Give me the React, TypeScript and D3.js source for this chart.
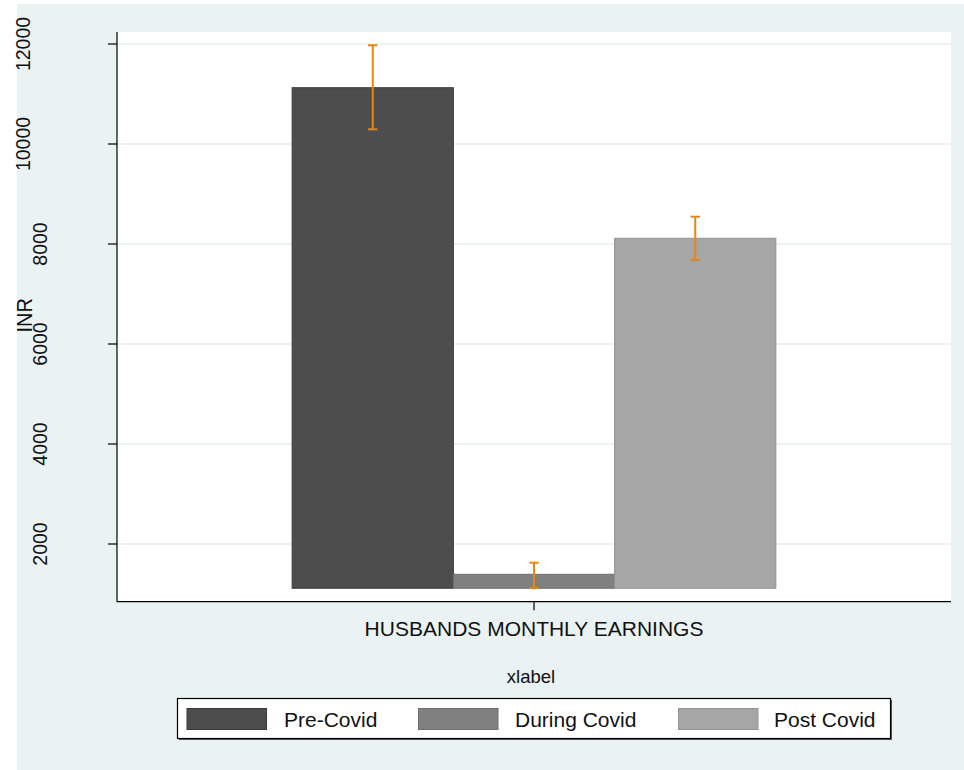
import React from "react";
import * as d3 from "d3";

const categories = ["Pre-Covid", "During Covid", "Post Covid"];
const means = [11126, 1394, 8114];
const ciLow = [10294, 1118, 7680];
const ciHigh = [11974, 1626, 8546];
const yTicks = [2000, 4000, 6000, 8000, 10000, 12000];
const barColors = ["#4d4d4d", "#808080", "#a6a6a6"];
const barStrokes = ["#3a3a3a", "#6e6e6e", "#929292"];
const groupLabel = "HUSBANDS MONTHLY EARNINGS";
const xTitle = "xlabel";
const yTitle = "INR";
const barBase = 1115;

const W = 964;
const H = 770;
const FONT = "'Liberation Sans', Arial, Helvetica, sans-serif";
const BG = "#eaf2f3";

export default function App() {
  const plot = { x0: 117, x1: 951, y0: 32, y1: 601.7 };
  const y = d3.scaleLinear().domain([846, 12240]).range([plot.y1, plot.y0]);
  const cx = (plot.x0 + plot.x1) / 2;
  const groupW = (plot.x1 - plot.x0) * 0.58;
  const x = d3
    .scaleBand<string>()
    .domain(categories)
    .range([cx - groupW / 2, cx + groupW / 2])
    .padding(0);

  const legendItems = [
    { sx: 187, tx: 284 },
    { sx: 418.5, tx: 515 },
    { sx: 678.5, tx: 774 },
  ];

  return (
    <svg
      width={W}
      height={H}
      style={{ position: "absolute", left: 0, top: 0, display: "block" }}
      fontFamily={FONT}
    >
      <rect x={0} y={0} width={W} height={H} fill="#ffffff" />
      <rect x={17} y={4} width={W - 17} height={H - 4} fill={BG} />
      <rect
        x={plot.x0}
        y={plot.y0}
        width={plot.x1 - plot.x0}
        height={plot.y1 - plot.y0}
        fill="#ffffff"
      />
      {yTicks.map((t) => (
        <line
          key={"g" + t}
          x1={plot.x0}
          x2={plot.x1}
          y1={y(t)}
          y2={y(t)}
          stroke={BG}
          strokeWidth={2}
        />
      ))}
      {categories.map((c, i) => (
        <rect
          key={"b" + c}
          x={x(c)!}
          y={y(means[i])}
          width={x.bandwidth()}
          height={y(barBase) - y(means[i])}
          fill={barColors[i]}
          stroke={barStrokes[i]}
          strokeWidth={1}
        />
      ))}
      {categories.map((c, i) => {
        const ex = x(c)! + x.bandwidth() / 2;
        return (
          <g key={"e" + c} stroke="#e8870f" strokeWidth={2}>
            <line x1={ex} x2={ex} y1={y(ciLow[i])} y2={y(ciHigh[i])} />
            <line x1={ex - 4.7} x2={ex + 4.7} y1={y(ciLow[i])} y2={y(ciLow[i])} />
            <line x1={ex - 4.7} x2={ex + 4.7} y1={y(ciHigh[i])} y2={y(ciHigh[i])} />
          </g>
        );
      })}
      {/* axes */}
      <line x1={plot.x0} x2={plot.x0} y1={plot.y0} y2={plot.y1} stroke="#000" strokeWidth={1.2} />
      <line x1={plot.x0} x2={plot.x1} y1={plot.y1} y2={plot.y1} stroke="#000" strokeWidth={1.2} />
      {yTicks.map((t) => {
        const label = String(t);
        const bx = 47 - (label.length - 4) * 17;
        return (
          <g key={"t" + t}>
            <line x1={108} x2={plot.x0} y1={y(t)} y2={y(t)} stroke="#000" strokeWidth={1.2} />
            <text
              transform={`translate(${bx},${y(t)}) scale(1.08,1) rotate(-90)`}
              textAnchor="middle"
              fontSize={19.5}
              fill="#111"
            >
              {label}
            </text>
          </g>
        );
      })}
      <line x1={cx} x2={cx} y1={plot.y1} y2={plot.y1 + 8.5} stroke="#000" strokeWidth={1.2} />
      <text
        transform={`translate(32,${(plot.y0 + plot.y1) / 2 - 1.5}) scale(1.08,1) rotate(-90)`}
        textAnchor="middle"
        fontSize={20}
        fill="#111"
      >
        {yTitle}
      </text>
      <text x={cx} y={636} textAnchor="middle" fontSize={21} fill="#111">
        {groupLabel}
      </text>
      <text x={cx - 3} y={683} textAnchor="middle" fontSize={18.5} fill="#111">
        {xTitle}
      </text>
      {/* legend */}
      <rect x={179} y={700} width={713} height={40} fill="#555" />
      <rect x={177.5} y={698.5} width={713} height={40} fill="#fff" stroke="#000" strokeWidth={1.2} />
      {categories.map((c, i) => (
        <g key={"l" + c}>
          <rect
            x={legendItems[i].sx}
            y={708.5}
            width={79.5}
            height={21}
            fill={barColors[i]}
            stroke={barStrokes[i]}
            strokeWidth={1}
          />
          <text x={legendItems[i].tx} y={727} fontSize={21} fill="#111">
            {c}
          </text>
        </g>
      ))}
    </svg>
  );
}
